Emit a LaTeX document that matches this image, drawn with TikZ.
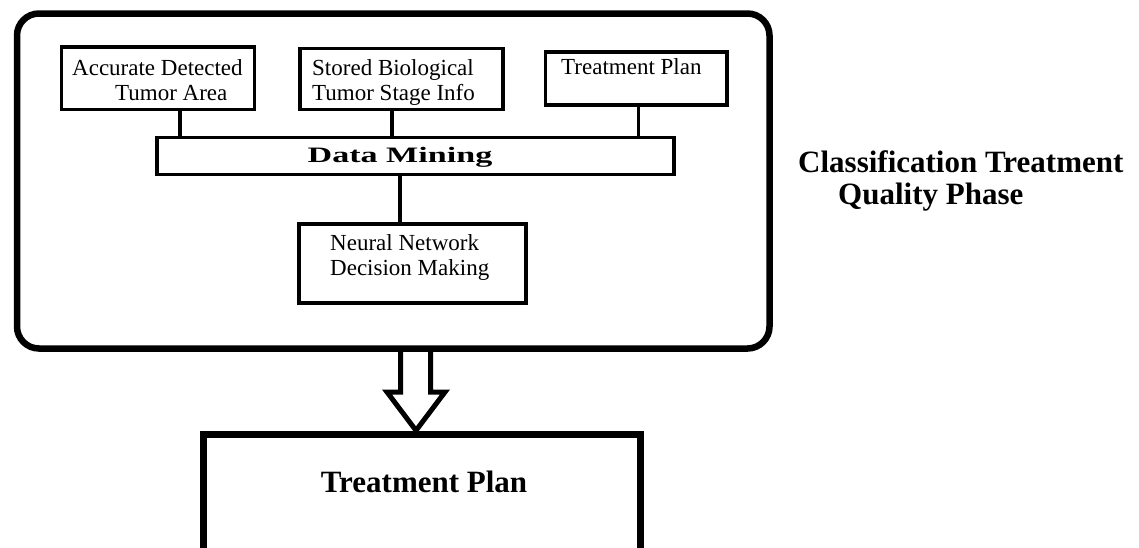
\documentclass[tikz,border=0pt]{standalone}
\usepackage{fontspec}
\setmainfont{Liberation Serif}
\usetikzlibrary{calc}
\tikzset{
  boxthin/.style={draw=black, line width=3.5pt, rectangle, inner sep=0pt, fill=white},
  conn/.style={draw=black, line width=3.5pt},
  txt/.style={inner sep=0pt, font=\fontsize{23pt}{25pt}\selectfont, align=left},
  bigtxt/.style={inner sep=0pt, font=\fontsize{31pt}{32pt}\selectfont\bfseries, align=left},
}
\begin{document}
\begin{tikzpicture}[x=1pt, y=-1pt]
\useasboundingbox (0,0) rectangle (1139,547);
\clip (0,0) rectangle (1139,547);
% outer rounded container
\node[draw=black, line width=6.5pt, rounded corners=22pt, minimum width=752.5pt, minimum height=335pt, inner sep=0pt] (outer) at (393.25,181) {};
% inner boxes
\node[boxthin, minimum width=193pt, minimum height=62.5pt] (b1) at (158,78.25) {};
\node[boxthin, minimum width=203pt, minimum height=61pt] (b2) at (401.5,79) {};
\node[boxthin, minimum width=181.5pt, minimum height=53pt] (b3) at (636.25,78.5) {};
\node[boxthin, minimum width=517pt, minimum height=37pt] (dm) at (415.5,156) {};
\node[boxthin, minimum width=227pt, minimum height=79pt] (nn) at (412.5,263.5) {};
% texts (base = baseline of last line)
\node[txt, anchor=base west] (t1) at (72,100) {Accurate Detected\\\hspace*{43pt}Tumor Area};
\node[txt, anchor=base west] (t2) at (312,100) {Stored Biological\\Tumor Stage Info};
\node[txt, anchor=base west] (t3) at (561,74) {Treatment Plan};
\node[txt, anchor=base west] (t4) at (330,275) {Neural Network\\Decision Making};
\node[inner sep=0pt, font=\fontsize{22pt}{24pt}\selectfont\bfseries, anchor=base] (t5) at (400,162) {\scalebox{1.55}[1]{Data Mining}};
% connectors
\draw[conn] (b1.south -| 180,0) -- (dm.north -| 180,0);
\draw[conn] (b2.south -| 392,0) -- (dm.north -| 392,0);
\draw[conn] (b3.south -| 638.5,0) -- (dm.north -| 638.5,0);
\draw[conn] (dm.south -| 400,0) -- (nn.north -| 400,0);
% bottom box
\node[draw=black, line width=7pt, minimum width=437pt, minimum height=166pt, inner sep=0pt] (plan) at (421.5,517) {};
\node[bigtxt, anchor=base] (pt) at (424,492) {Treatment Plan};
% hollow arrow
\draw[line width=5pt, line join=miter, miter limit=10]
  (outer.south -| 400.5,0) -- (400.5,392) -- (387,392) -- (plan.north -| 416,0)
  -- (445,392) -- (430.5,392) -- (outer.south -| 430.5,0);
% side label
\node[bigtxt, anchor=base west] (cl) at (798,204) {Classification Treatment\\\hspace*{40pt}Quality Phase};
\end{tikzpicture}
\end{document}
